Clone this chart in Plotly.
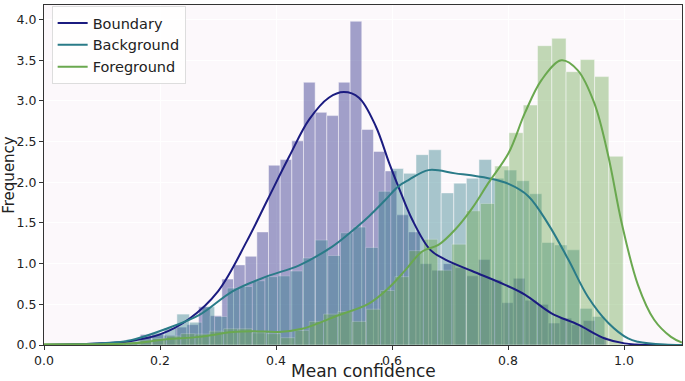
import numpy as np
import plotly.graph_objects as go

# ── Histogram data (density) ──────────────────────────────────────────────────
BOUNDARY_START = 0.1459
BOUNDARY_WIDTH = 0.0201
BOUNDARY_HEIGHTS = [
    0.03, 0.13, 0.13, 0.12, 0.22, 0.25, 0.47, 0.36, 0.81, 0.985,
    1.09, 1.39, 2.21, 2.28, 2.51, 3.23, 2.86, 2.82, 3.23, 3.98,
    2.65, 2.38, 2.14, 1.60, 1.39, 1.00, 0.92, 1.00, 0.95, 0.85,
    1.05, 0.80, 0.52, 0.82, 0.55, 0.50, 0.27, 0.33, 0.25, 0.30,
    0.10,
]

BACKGROUND_START = 0.1206
BACKGROUND_WIDTH = 0.0217
BACKGROUND_HEIGHTS = [
    0.04, 0.07, 0.10, 0.15, 0.21, 0.38, 0.28, 0.47, 0.35, 0.70,
    0.72, 0.79, 0.84, 0.85, 0.91, 1.07, 1.29, 1.10, 1.38, 1.45,
    1.20, 1.89, 2.17, 2.11, 2.34, 2.40, 1.87, 1.99, 2.05, 2.28,
    2.05, 2.15, 2.02, 1.86, 1.26, 1.23, 1.17, 0.45, 0.35,
]

FOREGROUND_START = 0.0145
FOREGROUND_WIDTH = 0.0246
FOREGROUND_HEIGHTS = [
    0.01, 0.01, 0.01, 0.02, 0.03, 0.04, 0.06, 0.08, 0.11, 0.14,
    0.135, 0.17, 0.20, 0.20, 0.15, 0.14, 0.09, 0.18, 0.29, 0.38,
    0.41, 0.29, 0.44, 0.67, 0.84, 1.16, 1.30, 0.92, 1.24, 1.65,
    1.74, 2.20, 2.61, 2.95, 3.68, 3.77, 3.36, 3.51, 3.30, 2.32,
]

# ── KDE curves ────────────────────────────────────────────────────────────────
BOUNDARY_KDE_X = [0.0, 0.1, 0.15, 0.2, 0.25, 0.3, 0.35, 0.385, 0.423, 0.457,
                  0.491, 0.517, 0.543, 0.572, 0.595, 0.612, 0.635, 0.666,
                  0.692, 0.738, 0.795, 0.829, 0.875, 0.921, 0.967, 1.001,
                  1.05, 1.1]
BOUNDARY_KDE_Y = [0.0, 0.02, 0.05, 0.13, 0.32, 0.66, 1.28, 1.78, 2.32, 2.77,
                  3.04, 3.11, 3.04, 2.69, 2.24, 1.93, 1.54, 1.17,
                  1.05, 0.91, 0.74, 0.62, 0.39, 0.25, 0.08, 0.02,
                  0.0, 0.0]

BACKGROUND_KDE_X = [0.0, 0.1, 0.15, 0.211, 0.268, 0.325, 0.383, 0.44, 0.497,
                    0.526, 0.56, 0.588, 0.611, 0.629, 0.663, 0.709, 0.766,
                    0.801, 0.835, 0.87, 0.904, 0.938, 0.973, 1.007, 1.024,
                    1.07, 1.1]
BACKGROUND_KDE_Y = [0.0, 0.02, 0.06, 0.2, 0.37, 0.66, 0.84, 0.98, 1.21,
                    1.37, 1.58, 1.78, 1.95, 2.03, 2.15, 2.11, 2.05,
                    1.98, 1.83, 1.48, 1.05, 0.59, 0.27, 0.08, 0.04,
                    0.005, 0.0]

FOREGROUND_KDE_X = [0.0, 0.1, 0.153, 0.211, 0.268, 0.325, 0.36, 0.405, 0.445,
                    0.474, 0.502, 0.56, 0.594, 0.623, 0.652, 0.68, 0.709,
                    0.738, 0.766, 0.801, 0.829, 0.858, 0.892, 0.92, 0.949,
                    0.973, 0.996, 1.024, 1.052, 1.081, 1.1]
FOREGROUND_KDE_Y = [0.01, 0.01, 0.02, 0.07, 0.10, 0.16, 0.17, 0.16, 0.20,
                    0.27, 0.35, 0.51, 0.70, 0.92, 1.15, 1.23, 1.42,
                    1.68, 1.99, 2.36, 2.85, 3.26, 3.50, 3.38, 2.97,
                    2.32, 1.50, 0.74, 0.31, 0.10, 0.03]

SERIES = [
    ("Boundary", "#1b1b80", BOUNDARY_START, BOUNDARY_WIDTH, BOUNDARY_HEIGHTS,
     BOUNDARY_KDE_X, BOUNDARY_KDE_Y),
    ("Background", "#2a7b88", BACKGROUND_START, BACKGROUND_WIDTH, BACKGROUND_HEIGHTS,
     BACKGROUND_KDE_X, BACKGROUND_KDE_Y),
    ("Foreground", "#6aa84f", FOREGROUND_START, FOREGROUND_WIDTH, FOREGROUND_HEIGHTS,
     FOREGROUND_KDE_X, FOREGROUND_KDE_Y),
]

FONT = "DejaVu Sans"

fig = go.Figure()

for name, color, start, width, heights, _, _ in SERIES:
    lefts = start + width * np.arange(len(heights))
    fig.add_bar(
        x=lefts,
        y=heights,
        width=width,
        offset=0,
        marker=dict(color=color, line=dict(color="rgba(255,255,255,0.6)", width=0.8)),
        opacity=0.4,
        showlegend=False,
        name=name,
    )

for name, color, _, _, _, kx, ky in SERIES:
    fig.add_scatter(
        x=kx,
        y=ky,
        mode="lines",
        line=dict(color=color, width=2, shape="spline", smoothing=1.0),
        name=name,
    )

axis_common = dict(
    showline=True,
    linecolor="#333333",
    linewidth=1,
    mirror=True,
    ticks="outside",
    ticklen=4,
    tickcolor="#333333",
    tickfont=dict(family=FONT, size=12.5, color="#222222"),
    gridcolor="#ffffff",
    gridwidth=1,
    zeroline=False,
    tickformat=".1f",
    automargin=False,
)

fig.update_layout(
    width=685,
    height=381,
    barmode="overlay",
    plot_bgcolor="#fcf8fb",
    paper_bgcolor="#ffffff",
    margin=dict(l=44, r=3, t=5, b=36),
    font=dict(family=FONT, color="#222222"),
    xaxis=dict(**axis_common, range=[0, 1.1], dtick=0.2),
    yaxis=dict(
        **axis_common,
        range=[0, 4.18],
        dtick=0.5,
        title=dict(text="Frequency", font=dict(family=FONT, size=15), standoff=0),
    ),
    legend=dict(
        x=0.012,
        y=0.997,
        xanchor="left",
        yanchor="top",
        bgcolor="rgba(255,255,255,0.8)",
        bordercolor="#dddddd",
        borderwidth=1,
        font=dict(family=FONT, size=14.5, color="#222222"),
        tracegroupgap=0,
    ),
)

# x title as an annotation so it sits just under the tick labels
fig.add_annotation(
    text="Mean confidence",
    xref="paper",
    yref="paper",
    x=0.5,
    y=0,
    yanchor="middle",
    yshift=-26,
    showarrow=False,
    font=dict(family=FONT, size=17, color="#222222"),
)

# the page body has a default 8px margin; drop it so the figure sits at 0,0
fig.write_html(
    "out.html",
    config={"displayModeBar": False},
    post_script="document.body.style.margin='0';",
)
